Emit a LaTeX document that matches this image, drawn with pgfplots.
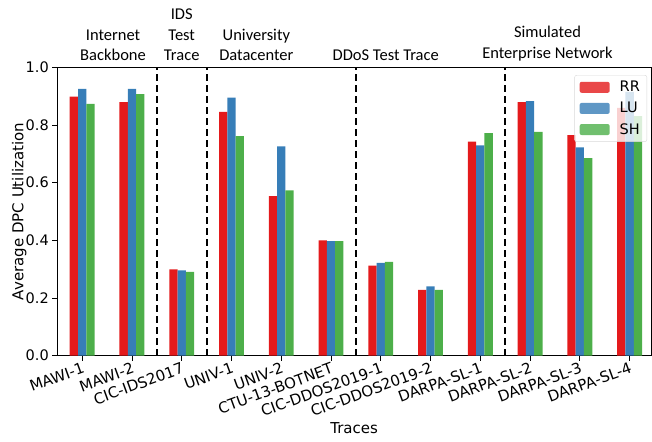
\documentclass[border=0pt]{standalone}
\usepackage{pgfplots}
\pgfplotsset{compat=1.18}
\usepackage{fontspec}
\setmainfont{DejaVu Sans}
\newfontfamily\grp{Carlito}
\definecolor{rr}{HTML}{E41A1C}
\definecolor{lu}{HTML}{377EB8}
\definecolor{sh}{HTML}{4DAF4A}
\begin{document}
\begin{tikzpicture}
\begin{axis}[
  at={(0,0)}, anchor=south west,
  scale only axis, width=593.7pt, height=288.4pt,
  xmin=-0.5, xmax=11.43, ymin=0, ymax=1,
  clip=false,
  ybar=0pt, bar width=8.3pt,
  axis line style={black, line width=0.9pt},
  tick pos=left, tick align=outside, major tick length=5pt,
  tick style={black, line width=0.9pt},
  xtick={0,1,2,3,4,5,6,7,8,9,10,11},
  xticklabels={MAWI-1,MAWI-2,CIC-IDS2017,UNIV-1,UNIV-2,CTU-13-BOTNET,CIC-DDOS2019-1,CIC-DDOS2019-2,DARPA-SL-1,DARPA-SL-2,DARPA-SL-3,DARPA-SL-4},
  xticklabel style={rotate=20, anchor=north east, font=\fontsize{15}{17}\selectfont, inner sep=1pt, xshift=0pt},
  ytick={0,0.2,0.4,0.6,0.8,1.0},
  yticklabel style={font=\fontsize{14.5}{16}\selectfont},
  /pgf/number format/assume math mode=true,
  yticklabel={\pgfmathprintnumber[fixed,fixed zerofill,precision=1]{\tick}},
  xlabel={Traces}, ylabel={Average DPC Utilization},
  xlabel style={at={(axis description cs:0.5,0)}, anchor=base, yshift=-78pt, font=\fontsize{15}{17}\selectfont},
  ylabel style={at={(axis description cs:0,0.5)}, anchor=center, yshift=38pt, font=\fontsize{15}{17}\selectfont},
  legend style={at={(rel axis cs:0.9933,0.973)}, anchor=north east, draw=black!15, rounded corners=2pt,
    fill=white, fill opacity=0.8, text opacity=1, font=\fontsize{14.5}{16}\selectfont,
    row sep=5pt, inner xsep=5pt, inner ysep=4pt,
    /tikz/every odd column/.append style={column sep=8pt}},
  legend image code/.code={\fill[#1] (0pt,-5.5pt) rectangle (30pt,5.5pt);},
  legend cell align=left,
]
\addplot[fill=rr, draw=none] coordinates {(0,0.898) (1,0.879) (2,0.299) (3,0.845) (4,0.553) (5,0.400) (6,0.312) (7,0.228) (8,0.742) (9,0.879) (10,0.765) (11,0.859)};
\addplot[fill=lu, draw=none] coordinates {(0,0.925) (1,0.925) (2,0.296) (3,0.895) (4,0.726) (5,0.397) (6,0.322) (7,0.240) (8,0.729) (9,0.883) (10,0.722) (11,0.915)};
\addplot[fill=sh, draw=none] coordinates {(0,0.873) (1,0.907) (2,0.291) (3,0.761) (4,0.573) (5,0.397) (6,0.325) (7,0.228) (8,0.772) (9,0.776) (10,0.685) (11,0.831)};
\legend{RR,LU,SH}
\draw[black, line width=2pt, dash pattern=on 7pt off 4pt] (axis cs:1.5,0) -- (axis cs:1.5,1);
\draw[black, line width=2pt, dash pattern=on 7pt off 4pt] (axis cs:2.5,0) -- (axis cs:2.5,1);
\draw[black, line width=2pt, dash pattern=on 7pt off 4pt] (axis cs:5.5,0) -- (axis cs:5.5,1);
\draw[black, line width=2pt, dash pattern=on 7pt off 4pt] (axis cs:8.5,0) -- (axis cs:8.5,1);
\node[font=\grp\fontsize{16.5}{20.5}\selectfont, align=center, anchor=south, inner sep=0pt, yshift=6pt] at (axis cs:0.62,1) {Internet\\Backbone};
\node[font=\grp\fontsize{16.5}{20.5}\selectfont, align=center, anchor=south, inner sep=0pt, yshift=6pt] at (axis cs:2.0,1) {IDS\\Test\\Trace};
\node[font=\grp\fontsize{16.5}{20.5}\selectfont, align=center, anchor=south, inner sep=0pt, yshift=6pt] at (axis cs:3.5,1) {University\\Datacenter};
\node[font=\grp\fontsize{16.5}{20.5}\selectfont, align=center, anchor=south, inner sep=0pt, yshift=6pt] at (axis cs:6.1,1) {DDoS Test Trace};
\node[font=\grp\fontsize{16.5}{20.5}\selectfont, align=center, anchor=south, inner sep=0pt, yshift=6pt] at (axis cs:9.35,1) {Simulated\\Enterprise Network};
\end{axis}
\pgfresetboundingbox
\path[use as bounding box] (-57.3pt,-85.3pt) rectangle (594.7pt,355.7pt);
\end{tikzpicture}
\end{document}
